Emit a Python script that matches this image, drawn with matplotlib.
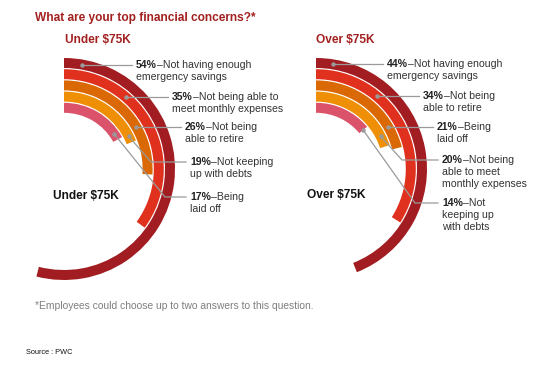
import numpy as np
import matplotlib.pyplot as plt
from matplotlib.patches import Wedge

plt.rcParams['font.family'] = ['Liberation Sans', 'DejaVu Sans']

# data
ring_colors = ['#A11D21', '#E0301E', '#DA6804', '#EE8F05', '#DB536A']

under_vals = [54, 35, 26, 19, 17]
under_desc = [['–Not having enough', 'emergency savings'],
              ['–Not being able to', 'meet monthly expenses'],
              ['–Not being', 'able to retire'],
              ['–Not keeping', 'up with debts'],
              ['–Being', 'laid off']]

over_vals = [44, 34, 21, 20, 14]
over_desc = [['–Not having enough', 'emergency savings'],
             ['–Not being', 'able to retire'],
             ['–Being', 'laid off'],
             ['–Not being', 'able to meet', 'monthly expenses'],
             ['–Not', 'keeping up', 'with debts']]

title = 'What are your top financial concerns?*'
groups = ['Under $75K', 'Over $75K']
footnote = '*Employees could choose up to two answers to this question.'
source = 'Source : PWC'

DARK = '#A32020'
GREY = '#9A9A9A'

fig = plt.figure(figsize=(5.34, 3.77), dpi=100)
ax = fig.add_axes([0, 0, 1, 1])
ax.set_xlim(0, 534)
ax.set_ylim(377, 0)
ax.axis('off')

R0, W, STEP = 111, 10, 11.2


def pt(cx, cy, r, a):
    # a = degrees clockwise from 12 o'clock (screen)
    a = np.radians(a)
    return cx + r * np.sin(a), cy - r * np.cos(a)


def label(x, y, pct, lines):
    t = ax.text(x, y, f'{pct}%', fontsize=7.6, fontweight='bold',
                va='center', ha='left', color='#222222')
    ax.annotate(lines[0], xy=(1, 0.5), xycoords=t, va='center', ha='left',
                fontsize=7.6, color='#333333')
    for k, s in enumerate(lines[1:]):
        ax.text(x, y + 12 * (k + 1), s, fontsize=7.6, va='center',
                ha='left', color='#333333')


def ring_chart(cx, cy, vals, descs, dots, elbows, tx):
    for i, v in enumerate(vals):
        r = R0 - STEP * i
        ax.add_patch(Wedge((cx, cy), r, -90, -90 + 360 * v / 100, width=W,
                           facecolor=ring_colors[i], edgecolor='none'))
    for i, v in enumerate(vals):
        r = R0 - STEP * i - W / 2
        x0, y0 = pt(cx, cy, r, dots[i])
        ex, ey = elbows[i]
        if ex is None:
            xs, ys = [x0, tx[i] - 4], [y0, y0]
            ly = y0
        else:
            xs, ys = [x0, ex, tx[i] - 4], [y0, ey, ey]
            ly = ey
        ax.plot(xs, ys, color=GREY, lw=0.9, zorder=3)
        ax.plot(x0, y0, 'o', ms=2.2, color=GREY, zorder=4)
        label(tx[i], ly, v, descs[i])


# left: Under $75K
ring_chart(64, 169, under_vals, under_desc,
           dots=[10, 41, 60, 63, 55],
           elbows=[(None, None), (None, None), (None, None), (151, 162), (165, 197)],
           tx=[136, 172, 185, 190, 190])
# right: Over $75K
ring_chart(316, 169, over_vals, over_desc,
           dots=[9, 40, 60, 63, 50],
           elbows=[(None, None), (None, None), (None, None), (402, 160), (415, 203)],
           tx=[387, 423, 437, 442, 442])

ax.text(35, 18, title, fontsize=8.6, fontweight='bold', color=DARK, va='center')
ax.text(65, 40, groups[0], fontsize=8.6, fontweight='bold', color=DARK, va='center')
ax.text(316, 40, groups[1], fontsize=8.6, fontweight='bold', color=DARK, va='center')
ax.text(53, 196, groups[0], fontsize=8.6, fontweight='bold', color='#111111', va='center')
ax.text(307, 195, groups[1], fontsize=8.6, fontweight='bold', color='#111111', va='center')
ax.text(35, 306, footnote, fontsize=7.4, color='#7F7F7F', va='center')
ax.text(26, 352, source, fontsize=5.3, color='#111111', va='center')

fig.savefig('out.png', dpi=100)
